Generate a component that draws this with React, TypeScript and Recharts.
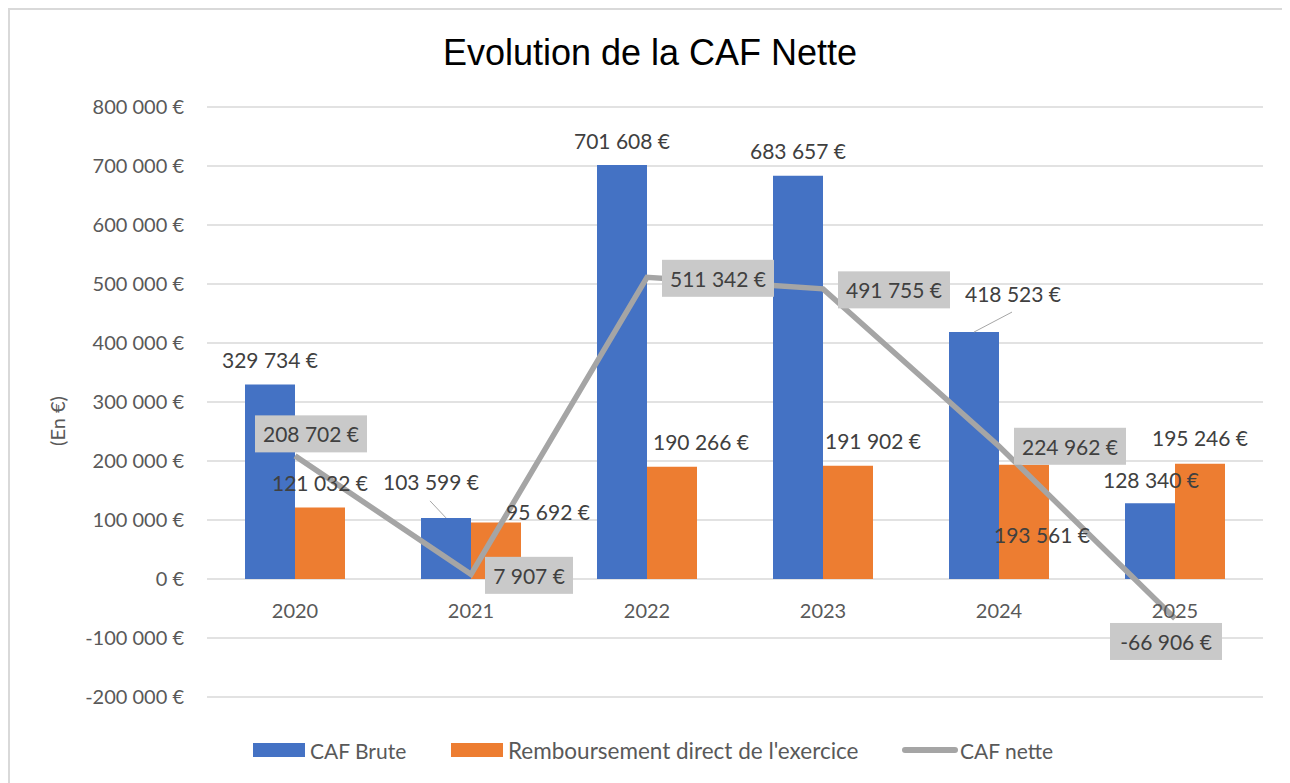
import React from "react";
import {
  ComposedChart,
  Bar,
  Line,
  XAxis,
  YAxis,
  CartesianGrid,
  LabelList,
} from "recharts";

const years = ["2020", "2021", "2022", "2023", "2024", "2025"];
const cafBrute = [329734, 103599, 701608, 683657, 418523, 128340];
const remboursement = [121032, 95692, 190266, 191902, 193561, 195246];
const cafNette = [208702, 7907, 511342, 491755, 224962, -66906];
const yTicks = [-200000, -100000, 0, 100000, 200000, 300000, 400000, 500000, 600000, 700000, 800000];

const data = years.map((year, i) => ({
  year,
  brute: cafBrute[i],
  remb: remboursement[i],
  nette: cafNette[i],
}));

// label offsets (from top centre of the bar / from the line point), like Excel's hand-moved labels
const bruteOffsets = [[0, -25], [-15, -36], [0, -25], [0, -25], [39, -39], [1, -24]];
const bruteLeader = [false, true, false, false, true, false];
const rembOffsets = [[0, -25], [52, -11], [29, -25], [25, -25], [18, 70], [0, -26]];
const netteOffsets = [[16, -22], [58, 1], [71, 1], [71, 1], [71, 0], [-9, 23]];

const Y_MIN = -200000;
const Y_MAX = 800000;
const W = 1272;
const H = 770;
const MARGIN = { top: 97, right: 19, left: 7, bottom: 53 };
const X_AXIS_H = 30;
const PLOT_H = H - MARGIN.top - MARGIN.bottom - X_AXIS_H;
const ZERO_FROM_BOTTOM = (PLOT_H * (0 - Y_MIN)) / (Y_MAX - Y_MIN);

const FONT = "Lato, 'Open Sans', sans-serif";
const fmt = (n: number) =>
  `${n < 0 ? "-" : ""}${Math.abs(n).toString().replace(/\B(?=(\d{3})+(?!\d))/g, " ")} €`;

const barLabel = (offsets: number[][], leaders?: boolean[]) => (props: any) => {
  const { x, y, width, value, index } = props;
  const cx = Number(x) + Number(width) / 2;
  const top = Number(y);
  const [dx, dy] = offsets[index];
  const lx = cx + dx;
  const ly = top + dy;
  return (
    <g>
      {leaders && leaders[index] && (
        <line x1={cx} y1={top} x2={lx - 1} y2={ly + 19} stroke="#A6A6A6" strokeWidth={1} />
      )}
      <text
        x={lx}
        y={ly}
        textAnchor="middle"
        dominantBaseline="central"
        fill="#404040"
        fontSize={21}
        fontFamily={FONT}
      >
        {fmt(value)}
      </text>
    </g>
  );
};

const lineLabel = (props: any) => {
  const { x, y, value, index } = props;
  const [dx, dy] = netteOffsets[index];
  const cx = Number(x) + dx;
  const cy = Number(y) + dy;
  const text = fmt(value);
  const w = text.length * 12 + 4;
  const h = 37;
  return (
    <g>
      <rect x={cx - w / 2} y={cy - h / 2} width={w} height={h} fill="#C9C9C9" />
      <text
        x={cx}
        y={cy}
        textAnchor="middle"
        dominantBaseline="central"
        fill="#404040"
        fontSize={21}
        fontFamily={FONT}
      >
        {text}
      </text>
    </g>
  );
};

const XTick = (props: any) => {
  const { x, y, payload } = props;
  return (
    <text
      x={x}
      y={Number(y) - ZERO_FROM_BOTTOM + 31}
      textAnchor="middle"
      dominantBaseline="central"
      fill="#595959"
      fontSize={20}
      fontFamily={FONT}
    >
      {payload.value}
    </text>
  );
};

const legendItems = [
  { label: "CAF Brute", color: "#4472C4", type: "rect", left: 243, size: 21 },
  { label: "Remboursement direct de l'exercice", color: "#ED7D31", type: "rect", left: 441, size: 22.5 },
  { label: "CAF nette", color: "#A5A5A5", type: "line", left: 892, size: 21 },
];

export default function App() {
  return (
    <div
      style={{
        position: "relative",
        width: 1276,
        height: 790,
        border: "2px solid #D9D9D9",
        boxSizing: "border-box",
        background: "#fff",
      }}
    >
      <div
        style={{
          position: "absolute",
          left: 0,
          top: 23,
          width: W,
          paddingLeft: 8,
          boxSizing: "border-box",
          textAlign: "center",
          fontFamily: "'Liberation Sans', Arial, sans-serif",
          fontSize: 36,
          lineHeight: "40px",
          color: "#000",
        }}
      >
        Evolution de la CAF Nette
      </div>
      <div style={{ position: "absolute", left: 0, top: 0 }}>
        <ComposedChart width={W} height={H} data={data} margin={MARGIN} barGap={0}>
          <CartesianGrid vertical={false} stroke="#D9D9D9" strokeWidth={1.5} />
          <XAxis
            dataKey="year"
            height={X_AXIS_H}
            axisLine={false}
            tickLine={false}
            tickSize={0}
            tickMargin={0}
            tick={<XTick />}
            interval={0}
          />
          <YAxis
            width={190}
            domain={[Y_MIN, Y_MAX]}
            ticks={yTicks}
            interval={0}
            axisLine={false}
            tickLine={false}
            tickSize={0}
            tickMargin={23}
            tickFormatter={fmt}
            tick={{ fill: "#595959", fontSize: 20, fontFamily: FONT }}
            label={{
              content: (p: any) => {
                const vb = p.viewBox || {};
                const lx = (vb.x ?? 0) + 40;
                const ly = (vb.y ?? 0) + (vb.height ?? 0) / 2 + 19;
                return (
                  <text
                    x={lx}
                    y={ly}
                    transform={`rotate(-90 ${lx} ${ly})`}
                    textAnchor="middle"
                    dominantBaseline="central"
                    fill="#595959"
                    fontSize={20}
                    fontFamily={FONT}
                  >
                    (En €)
                  </text>
                );
              },
            }}
          />
          <Bar dataKey="brute" name="CAF Brute" fill="#4472C4" barSize={50} isAnimationActive={false}>
            <LabelList dataKey="brute" content={barLabel(bruteOffsets, bruteLeader)} />
          </Bar>
          <Bar
            dataKey="remb"
            name="Remboursement direct de l'exercice"
            fill="#ED7D31"
            barSize={50}
            isAnimationActive={false}
          >
            <LabelList dataKey="remb" content={barLabel(rembOffsets)} />
          </Bar>
          <Line
            dataKey="nette"
            name="CAF nette"
            stroke="#A5A5A5"
            strokeWidth={5.5}
            dot={false}
            activeDot={false}
            isAnimationActive={false}
          >
            <LabelList dataKey="nette" content={lineLabel} />
          </Line>
        </ComposedChart>
      </div>
      {legendItems.map((item) => (
        <div
          key={item.label}
          style={{
            position: "absolute",
            left: item.left,
            top: 726,
            height: 28,
            display: "flex",
            alignItems: "center",
            fontFamily: FONT,
            fontSize: item.size,
            color: "#595959",
            whiteSpace: "nowrap",
          }}
        >
          {item.type === "rect" ? (
            <span style={{ width: 52, height: 14, background: item.color, marginRight: 5 }} />
          ) : (
            <span
              style={{
                width: 56,
                height: 6,
                borderRadius: 3,
                background: item.color,
                marginRight: 2,
              }}
            />
          )}
          <span>{item.label}</span>
        </div>
      ))}
    </div>
  );
}
